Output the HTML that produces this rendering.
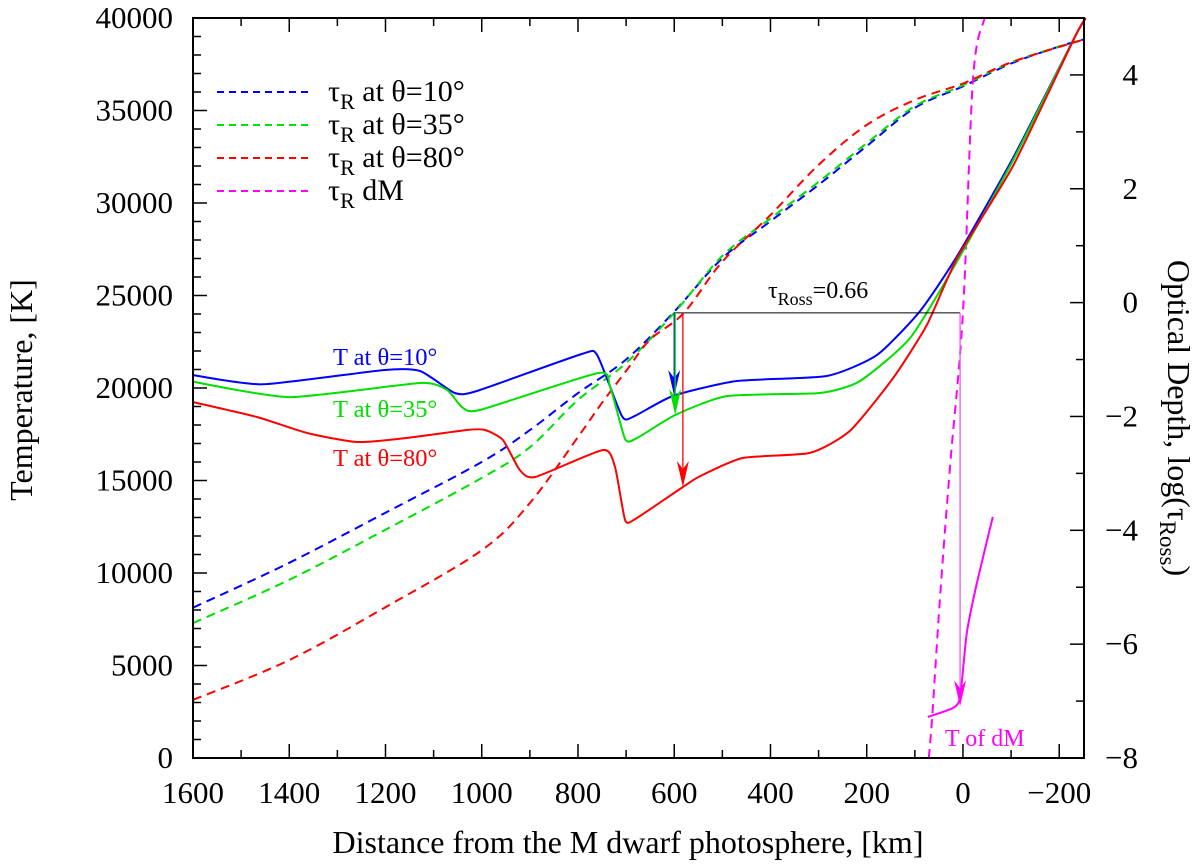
<!DOCTYPE html>
<html><head><meta charset="utf-8"><style>
body{margin:0;background:#fff}
svg{display:block;font-family:"Liberation Serif",serif}
</style></head><body>
<svg id="chart" width="1200" height="865" viewBox="0 0 1200 865" xmlns="http://www.w3.org/2000/svg">
<g id="plot"></g>
<text x="333" y="365" font-size="24.5" fill="#0000ff">T at θ=10°</text>
<text x="333" y="417" font-size="24.5" fill="#00e000">T at θ=35°</text>
<text x="333" y="466" font-size="24.5" fill="#ff0000">T at θ=80°</text>
<text x="768" y="298" font-size="24">τ<tspan font-size="18" dy="7">Ross</tspan><tspan dy="-7">=0.66</tspan></text>
<text x="945" y="746" font-size="24" fill="#ff00ff">T of dM</text>
<text x="0" y="0" font-size="32" text-anchor="middle" transform="translate(32,390) rotate(-90)">Temperature, [K]</text>
<text x="0" y="0" font-size="32" text-anchor="middle" transform="translate(1168,418) rotate(90)">Optical Depth, log(τ<tspan font-size="23" dy="8">Ross</tspan><tspan dy="-8">)</tspan></text>
<text x="628" y="853" font-size="32" text-anchor="middle">Distance from the M dwarf photosphere, [km]</text>
</svg>
<script>
// ---- data ----
const xTicks=[1600,1400,1200,1000,800,600,400,200,0,-200];
const xTickLabels=["1600","1400","1200","1000","800","600","400","200","0","\u2212200"];
const yTicks=[0,5000,10000,15000,20000,25000,30000,35000,40000];
const y2Ticks=[-8,-6,-4,-2,0,2,4];
const y2TickLabels=["\u22128","\u22126","\u22124","\u22122","0","2","4"];

const tBlueX=[1600,1455,1205,1128,1056,1010,792,760,709,686,603,470,283,179,89,12,-104,-233,-255];
const tBlueY=[20700,20200,20970,20920,19730,19840,21840,21780,18490,18430,19570,20380,20650,21780,24160,27140,32430,39000,40000];
const tGreenX=[1600,1400,1128,1072,1041,1004,758,733,702,677,598,490,297,214,110,12,-104,-233,-255];
const tGreenY=[20340,19510,20270,19890,18970,18810,20810,20050,17240,17300,18540,19570,19730,20380,22700,26860,32300,39000,40000];
const tRedX=[1600,1467,1363,1259,1155,1031,993,956,921,889,748,723,702,681,582,546,457,318,235,145,75,12,-104,-233,-255];
const tRedY=[19240,18430,17570,17080,17300,17730,17730,17190,15570,15190,16650,15730,12860,12920,14650,15240,16220,16490,17680,20540,23410,27030,32000,39000,40000];
const tDmX=[73,21,6,-8,-29,-62];
const tDmY=[2216,2700,3300,6760,9460,13030];

const tauBlueX=[1600,1400,1200,1000,900,800,700,600,500,400,300,200,100,0,-100,-200,-250];
const tauBlueY=[-5.36,-4.57,-3.69,-2.8,-2.24,-1.59,-1.0,-0.16,0.78,1.43,2.07,2.75,3.42,3.8,4.2,4.5,4.62];
const tauGreenX=[1600,1400,1200,1000,900,800,700,600,500,400,300,200,100,0,-100,-200,-250];
const tauGreenY=[-5.63,-4.87,-3.99,-3.08,-2.54,-1.71,-1.06,-0.18,0.82,1.48,2.12,2.8,3.45,3.82,4.22,4.5,4.62];
const tauRedX=[1600,1400,1200,1000,900,800,750,700,650,580,500,400,300,200,100,0,-100,-250];
const tauRedY=[-6.98,-6.28,-5.35,-4.35,-3.52,-2.36,-1.76,-1.2,-0.65,-0.18,0.72,1.54,2.42,3.12,3.56,3.85,4.22,4.62];
const tauDmX=[71,64,48,27,0,-21,-45];
const tauDmY=[-8,-7.28,-5.22,-2.89,-0.16,3.95,5];

const tauLevel=-0.18;
const arrowX=[600,598,582,6];
const arrowTargetT=[19570,18540,14650,2800];

// ---- scales ----
const L=193,R=1084,T=18,B=758;
const X0=1600,X1=-251.5;
const sx=v=>L+(X0-v)/(X0-X1)*(R-L);
const sy=v=>B-v/40000*(B-T);
const sy2=v=>B-(v+8)/13*(B-T);
const NS="http://www.w3.org/2000/svg";
const g=document.getElementById('plot');
function mk(tag,attrs,parent){const e=document.createElementNS(NS,tag);for(const k in attrs)e.setAttribute(k,attrs[k]);(parent||g).appendChild(e);return e;}
function pathOf(xs,ys,fy,k){const P=xs.map((x,i)=>[sx(x),fy(ys[i])]);
 let d='M'+P[0][0].toFixed(1)+','+P[0][1].toFixed(1);
 for(let i=0;i<P.length-1;i++){const p0=P[Math.max(0,i-1)],p1=P[i],p2=P[i+1],p3=P[Math.min(P.length-1,i+2)];
  const c1=[p1[0]+(p2[0]-p0[0])*k,p1[1]+(p2[1]-p0[1])*k],c2=[p2[0]-(p3[0]-p1[0])*k,p2[1]-(p3[1]-p1[1])*k];
  d+=' C'+c1.map(v=>v.toFixed(1)).join(',')+' '+c2.map(v=>v.toFixed(1)).join(',')+' '+p2[0].toFixed(1)+','+p2[1].toFixed(1);}
 return d;}

// ticks
for(let v=1600;v>=-250;v-=100){const major=v%200===0;const len=major?14:8;
 const t1=mk('line',{x1:sx(v),x2:sx(v),y1:B,y2:B-len,stroke:'#000','stroke-width':1.5});
 
 
 const t2=mk('line',{x1:sx(v),x2:sx(v),y1:T,y2:T+len,stroke:'#000','stroke-width':1.5});
 
 }
for(let v=0;v<=40000;v+=1000){const major=v%5000===0;const len=major?14:8;
 const t=mk('line',{x1:L,x2:L+len,y1:sy(v),y2:sy(v),stroke:'#000','stroke-width':1.5});
 
 }
for(let v=-8;v<=5;v+=1){const major=v%2===0;const len=major?14:8;
 const t=mk('line',{x1:R,x2:R-len,y1:sy2(v),y2:sy2(v),stroke:'#000','stroke-width':1.5});
 
 }
xTicks.forEach((v,i)=>{const t=mk('text',{x:sx(v),y:803,'text-anchor':'middle','font-size':31});t.textContent=xTickLabels[i];
 
 });
yTicks.forEach(v=>{const t=mk('text',{x:173,y:sy(v)+10,'text-anchor':'end','font-size':31});t.textContent=String(v);
 
 });
y2Ticks.forEach((v,i)=>{const t=mk('text',{x:1138,y:sy2(v)+10,'text-anchor':'end','font-size':31});t.textContent=y2TickLabels[i];
 
 });

// tau lines (dashed)
const dash='9,6';
[[tauBlueX,tauBlueY,'#0000ff','tau-theta10-line'],[tauGreenX,tauGreenY,'#00e000','tau-theta35-line'],[tauRedX,tauRedY,'#ff0000','tau-theta80-line'],[tauDmX,tauDmY,'#ff00ff','tau-dm-line']].forEach(s=>{
 const p=mk('path',{d:pathOf(s[0],s[1],sy2,1/6),fill:'none',stroke:s[2],'stroke-width':2,'stroke-dasharray':dash});
 
 });
// temperature lines
[[tBlueX,tBlueY,'#0000ff','temp-theta10-line'],[tGreenX,tGreenY,'#00e000','temp-theta35-line'],[tRedX,tRedY,'#ff0000','temp-theta80-line'],[tDmX,tDmY,'#ff00ff','temp-dm-line']].forEach(s=>{
 const p=mk('path',{d:pathOf(s[0],s[1],sy,1/10),fill:'none',stroke:s[2],'stroke-width':2});
 
 });

// tau=0.66 line and arrows
const hl=mk('line',{x1:sx(arrowX[0]),x2:sx(arrowX[3]),y1:sy2(tauLevel),y2:sy2(tauLevel),stroke:'#000','stroke-width':1});


const acol=['#0000ff','#00e000','#ff0000','#e060e0'];
const ahead=['#0000ff','#00e000','#ff0000','#ff00ff'];
arrowX.forEach((v,i)=>{const x=sx(v),y1=sy2(tauLevel),y2=sy(arrowTargetT[i]);
 const a=mk('line',{x1:x,x2:x,y1:y1,y2:y2-4,stroke:acol[i],'stroke-width':1.3});
 
 
 const h=mk('path',{d:`M${x-6},${y2-26} L${x},${y2} L${x+6},${y2-26} L${x},${y2-18} Z`,fill:ahead[i]});
 
 });

// frame
const fr=mk('rect',{x:L,y:T,width:R-L,height:B-T,fill:'none',stroke:'#000','stroke-width':2});



// legend
const legItems=[['#0000ff','at θ=10°'],['#00e000','at θ=35°'],['#ff0000','at θ=80°'],['#ff00ff','dM']];
legItems.forEach((it,i)=>{const y=92+i*33;
 const l=mk('line',{x1:217,x2:308,y1:y,y2:y,stroke:it[0],'stroke-width':2,'stroke-dasharray':'7,5'});
 
 
 const t=mk('text',{x:328,y:y+9,'font-size':30});
 
 
 const a=mk('tspan',{},t);a.textContent='τ';
 const b=mk('tspan',{'font-size':22,dy:8},t);b.textContent='R';
 const c=mk('tspan',{dy:-8},t);c.textContent=' '+it[1];});
</script>
</body></html>
